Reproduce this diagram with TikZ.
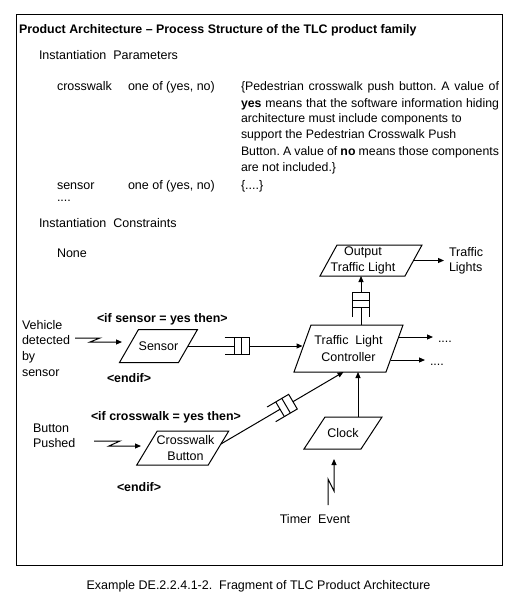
\documentclass[tikz,border=0pt]{standalone}
\usepackage{fontspec}
\setmainfont{Liberation Sans}
\usetikzlibrary{calc,arrows.meta}
\newcommand\drawpara[2]{% node name, half slant
  \draw ($(#1.north west)+(#2,0)$) -- ($(#1.north east)+(#2,0)$) --
        ($(#1.south east)+(-#2,0)$) -- ($(#1.south west)+(-#2,0)$) -- cycle;}
\newcommand\drawqueue[1]{%
  \draw (#1.north west) -- (#1.north east) -- (#1.south east) -- (#1.south west);
  \draw ($(#1.north east)!0.32!(#1.north west)$) -- ($(#1.south east)!0.32!(#1.south west)$);
  \draw ($(#1.north east)!0.6!(#1.north west)$) -- ($(#1.south east)!0.6!(#1.south west)$);}
\newcommand\fullline[1]{\makebox[258pt][s]{#1}}
\begin{document}
\begin{tikzpicture}[x=1pt,y=-1pt,line width=1pt,
  every node/.style={font=\fontsize{12.5pt}{16pt}\selectfont,inner sep=0pt,outer sep=0pt},
  boldtxt/.style={font=\fontsize{12.4pt}{16pt}\selectfont\bfseries},
  lbl/.style={anchor=base west},
  desc/.style={anchor=base west,font=\fontsize{12.3pt}{16pt}\selectfont\frenchspacing},
  shapebox/.style={align=center},
  qbox/.style={minimum width=25pt,minimum height=17pt},
  dotlbl/.style={anchor=west,inner xsep=5pt,inner ysep=0pt,text height=12pt,text depth=2pt},
  arr/.style={-{Triangle[length=6pt,width=5pt]}}]
\useasboundingbox (0,0) rectangle (519,607);
\draw (16,15) rectangle (502,565);
% header texts
\node[boldtxt,lbl] (title) at (19,34) {Product Architecture – Process Structure of the TLC product family};
\node[lbl] (ip) at (39,60) {Instantiation\ \ Parameters};
\node[lbl] (p1) at (57,91) {crosswalk};
\node[lbl] (p1v) at (128,91) {one of (yes, no)};
\node[desc] (d1l1) at (241,91) {\fullline{\{Pedestrian crosswalk push button. A value of}};
\node[desc] (d1l2) at (241,107) {\fullline{\textbf{yes} means that the software information hiding}};
\node[desc] (d1l3) at (241,123) {architecture must include components to};
\node[desc] (d1l4) at (241,139) {support the Pedestrian Crosswalk Push};
\node[desc] (d1l5) at (241,155) {\fullline{Button. A value of \textbf{no} means those components}};
\node[desc] (d1l6) at (241,171) {are not included.\}};
\node[lbl] (p2) at (57,189) {sensor};
\node[lbl] (p2v) at (128,189) {one of (yes, no)};
\node[lbl] (p2d) at (241,189) {\{....\}};
\node[lbl] (p3) at (57,201) {....};
\node[lbl] (ic) at (39,227) {Instantiation\ \ Constraints};
\node[lbl] (none) at (57,257) {None};
% conditional labels
\node[boldtxt,lbl] (if1) at (97,322) {<if sensor = yes then>};
\node[boldtxt,lbl] (end1) at (107,382) {<endif>};
\node[boldtxt,lbl] (if2) at (91,420) {<if crosswalk = yes then>};
\node[boldtxt,lbl] (end2) at (117,491) {<endif>};
% external labels
\node[anchor=north west,align=left,font=\fontsize{12.5pt}{15.7pt}\selectfont] (veh) at (22,320) {Vehicle\\detected\\by\\sensor};
\node[anchor=north west,align=left,font=\fontsize{12.5pt}{15pt}\selectfont] (btn) at (33,424) {Button\\Pushed};
\node[anchor=base] (timer) at (315,523) {Timer\ \ Event};
\node[anchor=north west,align=left,inner xsep=5pt,inner ysep=0pt,font=\fontsize{12.5pt}{15pt}\selectfont] (tl) at (444,247) {Traffic\\Lights};
% process shapes
\node[shapebox,minimum width=59pt,minimum height=33pt] (sensor) at (158.5,346) {Sensor};
\drawpara{sensor}{9.5}
\node[shapebox,minimum width=92pt,minimum height=47pt,font=\fontsize{12.5pt}{17pt}\selectfont] (ctrl) at (348.5,348.5) {Traffic\ \ Light\\Controller};
\drawpara{ctrl}{8.5}
\node[shapebox,minimum width=85pt,minimum height=31pt] (out) at (371,260.5) {Output\hspace*{16pt}\\Traffic Light\hspace*{16pt}};
\drawpara{out}{8.5}
\node[shapebox,minimum width=71.5pt,minimum height=34pt] (cw) at (182.75,448) {\hspace*{5.5pt}Crosswalk\\\hspace*{5.5pt}Button};
\drawpara{cw}{10.25}
\node[shapebox,minimum width=57pt,minimum height=32pt] (clock) at (343,433) {Clock};
\drawpara{clock}{10.5}
% output labels
\node[dotlbl] (o1) at (433,337) {....};
\node[dotlbl] (o2) at (425,360) {....};
% queues
\node[qbox] (q1) at (237,346) {};
\drawqueue{q1}
\node[qbox,rotate=90] (q2) at (361,304.5) {};
\drawqueue{q2}
\coordinate (cwout) at ($(cw.east)+(2.4,-4)$);
\coordinate (ctrlin) at ($(ctrl.south)+(-5,0)$);
\path (cwout) -- node[qbox,sloped,pos=0.5] (q3) {} (ctrlin);
\drawqueue{q3}
% connectors
\draw (sensor.east) -- ($(q1.east)!0.6!(q1.west)$);
\draw[arr] (q1.east) -- (q1.east -| ctrl.west);
\draw (q2.center |- ctrl.north) -- ($(q2.east)!0.6!(q2.west)$);
\draw[arr] (q2.east) -- (q2.east |- out.south);
\draw (cwout) -- ($(q3.east)!0.6!(q3.west)$);
\draw[arr] (q3.east) -- (ctrlin);
\coordinate (ck) at ($(clock.north)+(15,0)$);
\draw[arr] (ck) -- (ck |- ctrl.south);
\draw[arr] ($(ctrl.east)+(4,-11.5)$) -- (o1.west);
\draw[arr] ($(ctrl.east)+(-4,11.5)$) -- (o2.west);
\draw[arr] (out.east) -- (out.east -| tl.west);
% event bolts
\coordinate (vstart) at (75,338);
\draw[arr] (vstart) -- ++(25,0) -- ++(-10,4) -- ($(sensor.west)+(-7,-4)$);
\coordinate (bstart) at (94,441);
\draw[arr] (bstart) -- ++(26,0) -- ++(-11,5) -- ($(cw.west)+(-6,-2)$);
\coordinate (tstart) at (328,505);
\draw[arr] (tstart) -- ++(0,-26) -- ++(6,12) -- ($(clock.south)+(-9,10)$);
% caption
\node[anchor=base] (caption) at (258.5,589) {Example DE.2.2.4.1-2.\ \ Fragment of TLC Product Architecture};
\end{tikzpicture}
\end{document}
